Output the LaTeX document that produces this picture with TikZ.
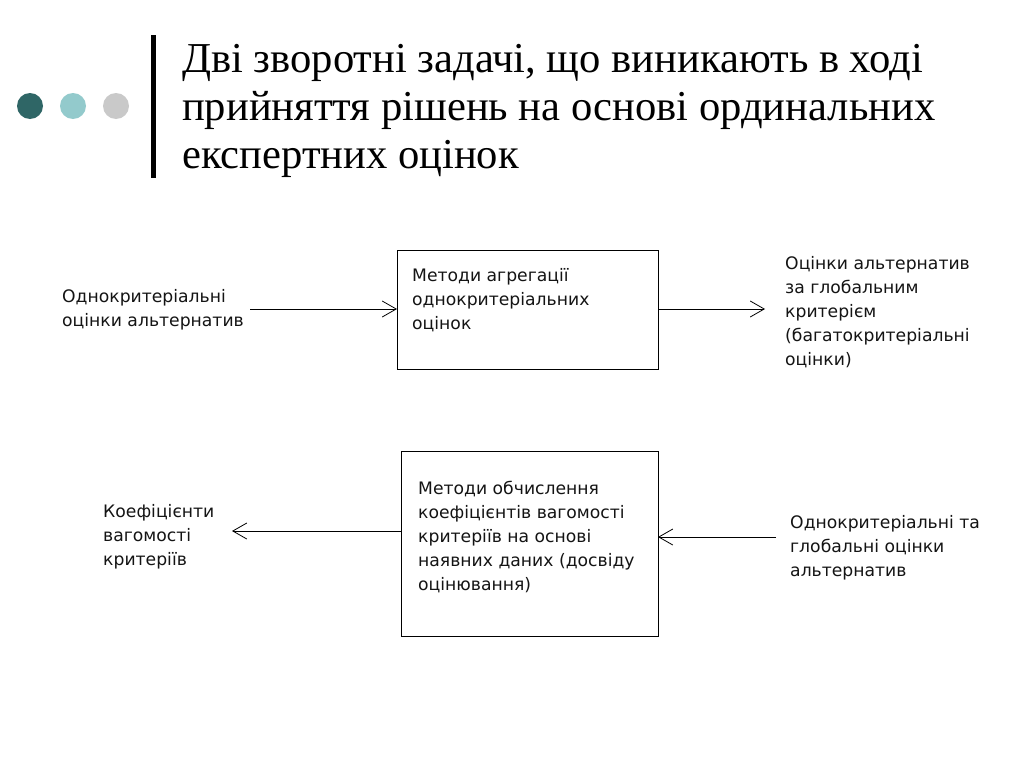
\documentclass[tikz,border=0pt]{standalone}
\usepackage{fontspec}
\setmainfont{Liberation Serif}
\newfontfamily\diagfont{DejaVu Sans}
\usetikzlibrary{arrows.meta}
\definecolor{dotA}{HTML}{2F6666}
\definecolor{dotB}{HTML}{93CACC}
\definecolor{dotC}{HTML}{C9C9C9}
\definecolor{txt}{HTML}{141414}
\tikzset{
  box/.style={draw=black, line width=1pt, inner sep=0pt},
  lbl/.style={anchor=west, inner sep=0pt, align=left, text=txt, font=\diagfont\fontsize{17.2}{24}\selectfont},
  conn/.style={line width=0.8pt, -{Straight Barb[length=14pt,width=16pt,line width=0.8pt]}},
  dot/.style={circle, inner sep=0pt, minimum size=26pt}
}
\begin{document}
\begin{tikzpicture}[x=1pt,y=-1pt]
\useasboundingbox (0,0) rectangle (1024,768);
\fill[white] (0,0) rectangle (1024,768);
% decoration
\node[dot, fill=dotA] (d1) at (30,106) {};
\node[dot, fill=dotB] (d2) at (73,106) {};
\node[dot, fill=dotC] (d3) at (116,106) {};
\fill[black] (151,35) rectangle (156,178);
% title (base anchor = baseline of last line)
\node[anchor=base west, inner sep=0pt, align=left, font=\fontsize{42.6}{48}\selectfont] (title) at (182,168)
  {Дві зворотні задачі, що виникають в ході\\прийняття рішень на основі ординальних\\експертних оцінок};
% boxes
\draw[box] (397,250) rectangle (658,369);
\coordinate (b1w) at (397,309);
\coordinate (b1e) at (658,309);
\draw[box] (401,451) rectangle (658,636);
\coordinate (b2wa) at (401,531);
\coordinate (b2eb) at (658,537);
\node[lbl] (t1) at (412,300) {Методи агрегації\\однокритеріальних\\оцінок};
\node[lbl] (t2) at (418,537) {Методи обчислення\\коефіцієнтів вагомості\\критеріїв на основі\\наявних даних (досвіду\\оцінювання)};
% side labels
\node[lbl] (in1) at (62,310) {Однокритеріальні\\оцінки альтернатив};
\node[lbl] (out1) at (785,312) {Оцінки альтернатив\\за глобальним\\критерієм\\(багатокритеріальні\\оцінки)};
\node[lbl] (out2) at (103,537) {Коефіцієнти\\вагомості\\критеріїв};
\node[lbl] (in2) at (790,548) {Однокритеріальні та\\глобальні оцінки\\альтернатив};
% connectors
\coordinate (a1s) at (250,309);
\coordinate (a2e) at (765,309);
\coordinate (a3e) at (232,531);
\coordinate (a4s) at (776,537);
\draw[conn] (a1s) -- (b1w);
\draw[conn] (b1e) -- (a2e);
\draw[conn] (b2wa) -- (a3e);
\draw[conn] (a4s) -- (b2eb);
\end{tikzpicture}
\end{document}
